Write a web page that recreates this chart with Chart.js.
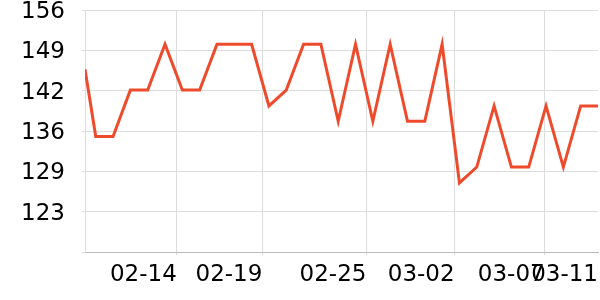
<!DOCTYPE html>
<html>
<head>
<meta charset="utf-8">
<script src="https://cdn.jsdelivr.net/npm/chart.js@4/dist/chart.umd.min.js"></script>
<style>
html,body{margin:0;padding:0;background:#fff;}
#wrap{width:600px;height:300px;}
</style>
</head>
<body>
<div id="wrap"><canvas id="c" width="600" height="300"></canvas></div>
<script>
// Day offsets of each reading (one per day; first one is a partial-day reading)
const dayOffsets = [-0.62, 0, 1, 2, 3, 4, 5, 6, 7, 8, 9, 10, 11, 12, 13, 14, 15, 16, 17, 18, 19, 20, 21, 22, 23, 24, 25, 26, 27, 28, 29];
// Series values
const values = [146.3, 135.3, 135.3, 142.9, 142.9, 150.4, 142.9, 142.9, 150.4, 150.4, 150.4, 140.3, 142.9, 150.4, 150.4, 137.8, 150.4, 137.8, 150.4, 137.8, 137.8, 150.4, 127.7, 130.3, 140.3, 130.3, 130.3, 140.3, 130.3, 140.3, 140.3];
// X tick positions (day offsets) and labels
const xTickDays = [4.68, 9.62, 15.63, 20.72, 25.92, 29];
const xTickLabels = ['02-14', '02-19', '02-25', '03-02', '03-07', '03-11'];
// Y ticks
const yTickValues = [116.4, 123, 129.6, 136.2, 142.8, 149.4, 156];
const yTickLabels = ['', '123', '129', '136', '142', '149', '156'];

const points = dayOffsets.map((d, i) => ({x: d, y: values[i]}));
const FONT = {family: 'DejaVu Sans', size: 23};

new Chart(document.getElementById('c'), {
  type: 'line',
  data: {
    datasets: [{
      data: points,
      borderColor: '#ee4a2c',
      borderWidth: 3,
      pointRadius: 0,
      tension: 0,
      fill: false
    }]
  },
  options: {
    responsive: false,
    animation: false,
    layout: {padding: {left: 0, right: 2, top: 0, bottom: 0}},
    plugins: {legend: {display: false}, tooltip: {enabled: false}},
    scales: {
      x: {
        type: 'linear',
        min: dayOffsets[0],
        max: dayOffsets[dayOffsets.length - 1],
        afterBuildTicks: s => { s.ticks = xTickDays.map(v => ({value: v})); },
        afterFit: s => { s.height = 48; s.paddingLeft = 0; s.paddingRight = 0; },
        ticks: {
          autoSkip: false,
          maxRotation: 0,
          minRotation: 0,
          align: 'end',
          padding: 6,
          color: '#000',
          font: FONT,
          callback: (v, i) => xTickLabels[i]
        },
        grid: {
          color: ctx => (ctx.index === xTickDays.length - 1 ? 'rgba(0,0,0,0)' : '#dddddd'),
          tickLength: 3,
          lineWidth: 1
        },
        border: {color: '#bbbbbb', width: 1}
      },
      y: {
        type: 'linear',
        min: yTickValues[0],
        max: yTickValues[yTickValues.length - 1],
        afterBuildTicks: s => { s.ticks = yTickValues.map(v => ({value: v})); },
        afterFit: s => { s.width = 85; s.paddingTop = 10; s.paddingBottom = 0; },
        ticks: {
          padding: 17,
          color: '#000',
          font: {family: 'DejaVu Sans', size: 23, lineHeight: '4px'},
          callback: (v, i) => ['', yTickLabels[i]]
        },
        grid: {color: '#dddddd', tickLength: 3, lineWidth: 1},
        border: {color: '#dddddd', width: 1}
      }
    }
  }
});
</script>
</body>
</html>
